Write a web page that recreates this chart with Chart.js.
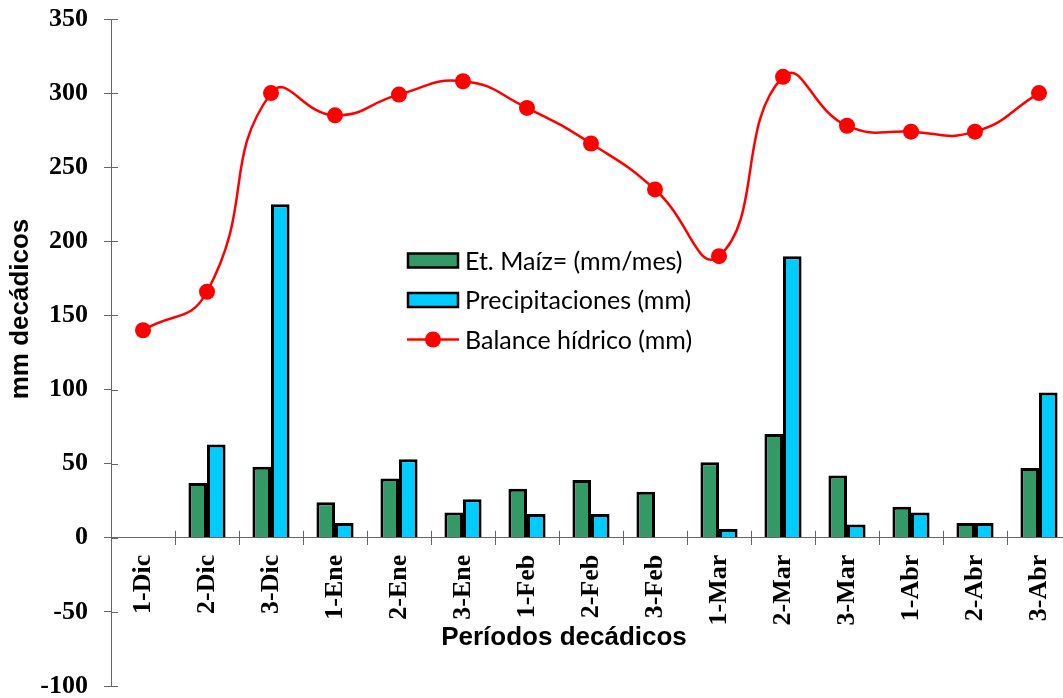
<!DOCTYPE html>
<html>
<head>
    <meta charset="utf-8">
    <title>Balance hídrico - Maíz</title>
    <script src="https://cdn.jsdelivr.net/npm/chart.js"></script>
    <style>
        html, body { margin: 0; padding: 0; overflow: hidden; background: #fff; }
        #wrap { width: 1080px; height: 698px; position: relative; }
    </style>
</head>
<body>
    <div id="wrap"><canvas id="chart"></canvas></div>

    <script>
        // datos
        const categories = ['1-Dic', '2-Dic', '3-Dic', '1-Ene', '2-Ene', '3-Ene', '1-Feb', '2-Feb', '3-Feb',
                            '1-Mar', '2-Mar', '3-Mar', '1-Abr', '2-Abr', '3-Abr'];
        const etMaiz = [null, 37, 48, 24, 40, 17, 33, 39, 31, 51, 70, 42, 21, 10, 47];
        const precipitaciones = [null, 63, 225, 10, 53, 26, 16, 16, null, 6, 190, 9, 17, 10, 98];
        const balance = [140, 166, 300, 285, 299, 308, 290, 266, 235, 190, 311, 278, 274, 274, 300];
        const yTicks = { min: -100, max: 350, step: 50 };

        const axisGray = '#666666';
        const serifBold = { family: 'Liberation Serif', size: 26, weight: 'bold' };

        // marcas de eje en cruz, titulos de ejes y leyenda
        const extras = {
            id: 'extras',
            afterDraw(chart) {
                const { ctx, scales: { x, y } } = chart;
                const zeroY = y.getPixelForValue(0);
                ctx.save();
                ctx.strokeStyle = axisGray;
                ctx.lineWidth = 1;
                ctx.beginPath();
                y.ticks.forEach((t, i) => {
                    const py = Math.round(y.getPixelForTick(i)) + 0.5;
                    ctx.moveTo(x.left, py);
                    ctx.lineTo(x.left + 7, py);
                });
                for (let i = 0; i <= categories.length; i++) {
                    const px = Math.round(x.getPixelForValue(i - 0.5)) + 0.5;
                    ctx.moveTo(px, zeroY);
                    ctx.lineTo(px, zeroY - 7);
                }
                ctx.stroke();

                ctx.fillStyle = '#000';
                ctx.font = 'bold 26px "Liberation Sans"';
                ctx.textAlign = 'center';
                ctx.textBaseline = 'middle';
                ctx.fillText('Períodos decádicos', 564, 638);
                ctx.save();
                ctx.translate(21, 309);
                ctx.rotate(-Math.PI / 2);
                ctx.fillText('mm decádicos', 0, 0);
                ctx.restore();

                // leyenda
                ctx.font = '25px Lato';
                ctx.textAlign = 'left';
                chart.data.datasets.forEach((ds, i) => {
                    const cy = 260.5 + i * 39.5;
                    if (ds.type === 'line') {
                        ctx.strokeStyle = ds.borderColor;
                        ctx.lineWidth = 2.5;
                        ctx.beginPath();
                        ctx.moveTo(407, cy);
                        ctx.lineTo(459, cy);
                        ctx.stroke();
                        ctx.fillStyle = ds.pointBackgroundColor;
                        ctx.beginPath();
                        ctx.arc(433, cy, 8, 0, Math.PI * 2);
                        ctx.fill();
                    } else {
                        ctx.fillStyle = ds.backgroundColor;
                        ctx.fillRect(408, cy - 7, 50, 14);
                        ctx.strokeStyle = '#000';
                        ctx.lineWidth = 2.5;
                        ctx.strokeRect(408, cy - 7, 50, 14);
                    }
                    ctx.fillStyle = '#000';
                    ctx.fillText(ds.label, 465, cy + 1);
                });
                ctx.restore();
            }
        };

        const ctx = document.getElementById('chart').getContext('2d');
        const chart = new Chart(ctx, {
            data: {
                labels: categories,
                datasets: [{
                    type: 'bar',
                    label: 'Et. Maíz= (mm/mes)',
                    data: etMaiz,
                    backgroundColor: '#339966',
                    borderColor: '#000',
                    borderWidth: 3,
                    barPercentage: 1,
                    categoryPercentage: 0.58
                }, {
                    type: 'bar',
                    label: 'Precipitaciones (mm)',
                    data: precipitaciones,
                    backgroundColor: '#00CCFF',
                    borderColor: '#000',
                    borderWidth: 3,
                    barPercentage: 1,
                    categoryPercentage: 0.58
                }, {
                    type: 'line',
                    label: 'Balance hídrico (mm)',
                    data: balance,
                    borderColor: '#FF0000',
                    borderWidth: 2.5,
                    pointBackgroundColor: '#FF0000',
                    pointBorderWidth: 0,
                    pointRadius: 8,
                    tension: 0.5,
                    order: -1,
                    clip: false
                }]
            },
            options: {
                responsive: true,
                maintainAspectRatio: false,
                animation: false,
                layout: { padding: { left: 0, top: 19, right: 9, bottom: 12 } },
                plugins: {
                    legend: { display: false },
                    tooltip: { enabled: false }
                },
                scales: {
                    x: {
                        type: 'category',
                        position: { y: 0 },
                        offset: true,
                        grid: { offset: true, drawOnChartArea: false, tickLength: 7, color: axisGray },
                        border: { color: axisGray },
                        ticks: {
                            minRotation: 90, maxRotation: 90, autoSkip: false,
                            font: serifBold, color: '#000', padding: 10
                        },
                        afterFit(s) { s.paddingLeft = 0; s.paddingRight = 0; }
                    },
                    y: {
                        min: yTicks.min,
                        max: yTicks.max,
                        grid: { drawOnChartArea: false, tickLength: 7, color: axisGray },
                        border: { color: axisGray },
                        ticks: { stepSize: yTicks.step, font: serifBold, color: '#000', padding: 16 },
                        afterFit(s) { s.width = 111; s.paddingTop = 0; s.paddingBottom = 0; }
                    }
                }
            },
            plugins: [extras]
        });
    </script>
</body>
</html>
